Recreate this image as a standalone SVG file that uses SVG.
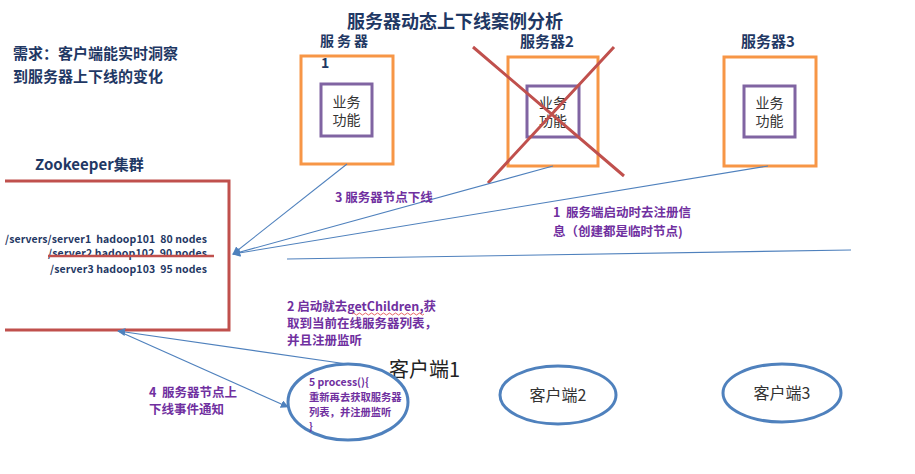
<svg xmlns="http://www.w3.org/2000/svg" width="915" height="474" viewBox="0 0 915 474" xml:space="preserve">
<style>
text{font-family:"Noto Sans CJK SC","Noto Sans",sans-serif;white-space:pre}
.navy{fill:#1f3864;font-weight:bold}
.purple{fill:#7030a0;font-weight:bold;font-size:12.5px}
.srv{fill:none;stroke:#f79646;stroke-width:3}
.biz{fill:#fff;stroke:#8064a2;stroke-width:3}
.biztxt{fill:#333;font-size:14px;text-anchor:middle}
.zk{fill:#1f3864;font-weight:bold;font-size:10.5px}
.conn{fill:none;stroke:#4f81bd;stroke-width:1.1}
.cli{fill:#fff;stroke:#4f81bd;stroke-width:3}
.clitxt{fill:#333;font-size:16px;text-anchor:middle}
.red{stroke:#c0504d;stroke-width:3;fill:none}
</style>
<defs>
<marker id="arr" viewBox="0 0 10 10" refX="9" refY="5" markerWidth="8" markerHeight="8" markerUnits="userSpaceOnUse" orient="auto">
<path d="M0,0 L10,5 L0,10 z" fill="#4f81bd"/>
</marker>
</defs>
<rect width="915" height="474" fill="#fff"/>

<text x="455" y="28" class="navy" font-size="18" text-anchor="middle">服务器动态上下线案例分析</text>

<g id="requirement">
<text x="13" y="59" class="navy" font-size="15">需求：客户端能实时洞察</text>
<text x="13" y="82" class="navy" font-size="15">到服务器上下线的变化</text>
</g>

<g id="server1">
<text x="320" y="46" class="navy" font-size="14" letter-spacing="3">服务器</text>
<text x="321" y="68" class="navy" font-size="14">1</text>
<rect x="301" y="56" width="92" height="108" class="srv"/>
<rect x="321" y="84" width="51" height="52" class="biz"/>
<text x="346.5" y="107" class="biztxt">业务</text>
<text x="346.5" y="125" class="biztxt">功能</text>
</g>

<g id="server2">
<text x="547" y="47" class="navy" font-size="15" text-anchor="middle">服务器2</text>
<rect x="508" y="57" width="90" height="109" class="srv"/>
<rect x="527" y="86" width="52" height="51" class="biz"/>
<text x="553" y="108" class="biztxt">业务</text>
<text x="553" y="126" class="biztxt">功能</text>
<path d="M473,47 L624,176 M614,47 L488,183" class="red"/>
</g>

<g id="server3">
<text x="768" y="47" class="navy" font-size="15" text-anchor="middle">服务器3</text>
<rect x="724" y="57" width="92" height="109" class="srv"/>
<rect x="744" y="86" width="51" height="51" class="biz"/>
<text x="769.5" y="108" class="biztxt">业务</text>
<text x="769.5" y="126" class="biztxt">功能</text>
</g>

<g id="zookeeper">
<text x="35" y="170" class="navy" font-size="15">Zookeeper集群</text>
<path d="M5,181 L229,181 L229,330 L5,330" fill="none" stroke="#c0504d" stroke-width="3"/>
<text x="5" y="243" class="zk" textLength="202" lengthAdjust="spacing">/servers/server1  hadoop101  80 nodes</text>
<text x="48" y="257" class="zk" textLength="159" lengthAdjust="spacing">/server2 hadoop102  90 nodes</text>
<text x="50" y="273" class="zk" textLength="157" lengthAdjust="spacing">/server3 hadoop103  95 nodes</text>
<line x1="48" y1="256" x2="214" y2="256" stroke="#c0504d" stroke-width="2.5"/>
</g>

<g id="connectors">
<line x1="347" y1="164" x2="233" y2="254" class="conn" marker-end="url(#arr)"/>
<line x1="553" y1="166" x2="233" y2="254" class="conn" marker-end="url(#arr)"/>
<line x1="768" y1="166" x2="233" y2="254" class="conn" marker-end="url(#arr)"/>
<line x1="287" y1="259" x2="851" y2="250" class="conn"/>
<line x1="347" y1="364" x2="118" y2="331" class="conn" marker-end="url(#arr)"/>
<line x1="118" y1="331" x2="288" y2="407" class="conn" marker-end="url(#arr)"/>
</g>

<g id="labels">
<text x="335" y="202" class="purple">3 服务器节点下线</text>
<text x="553" y="217" class="purple">1  服务端启动时去注册信</text>
<text x="553" y="236" class="purple">息（创建都是临时节点)</text>
<text x="287" y="311" class="purple">2 启动就去getChildren,获</text>
<path d="M352,314 q1.5,-2 3,0 t3,0 t3,0 t3,0 t3,0 t3,0 t3,0 t3,0 t3,0 t3,0 t3,0 t3,0 t3,0 t3,0 t3,0 t3,0 t3,0 t3,0 t3,0 t3,0 t3,0 t3,0 t3,0 t3,0" fill="none" stroke="#e04040" stroke-width="0.8"/>
<text x="287" y="328" class="purple">取到当前在线服务器列表，</text>
<text x="287" y="345" class="purple">并且注册监听</text>
<text x="149" y="397" class="purple">4  服务器节点上</text>
<text x="149" y="414" class="purple">下线事件通知</text>
</g>

<g id="client1">
<text x="389" y="377" fill="#222" font-size="20">客户端1</text>
<ellipse cx="348" cy="402" rx="60" ry="38" class="cli"/>
<text x="309" y="386" fill="#7030a0" font-weight="bold" font-size="10.5">5 process(){</text>
<text x="309" y="401" fill="#7030a0" font-weight="bold" font-size="10.3">重新再去获取服务器</text>
<text x="309" y="416" fill="#7030a0" font-weight="bold" font-size="10.3">列表，并注册监听</text>
<text x="309" y="430" fill="#7030a0" font-weight="bold" font-size="10">}</text>
</g>

<g id="client2">
<ellipse cx="558" cy="395" rx="58" ry="29" class="cli"/>
<text x="558" y="401" class="clitxt">客户端2</text>
</g>

<g id="client3">
<ellipse cx="782" cy="393" rx="59" ry="29" class="cli"/>
<text x="782" y="399" class="clitxt">客户端3</text>
</g>
</svg>
